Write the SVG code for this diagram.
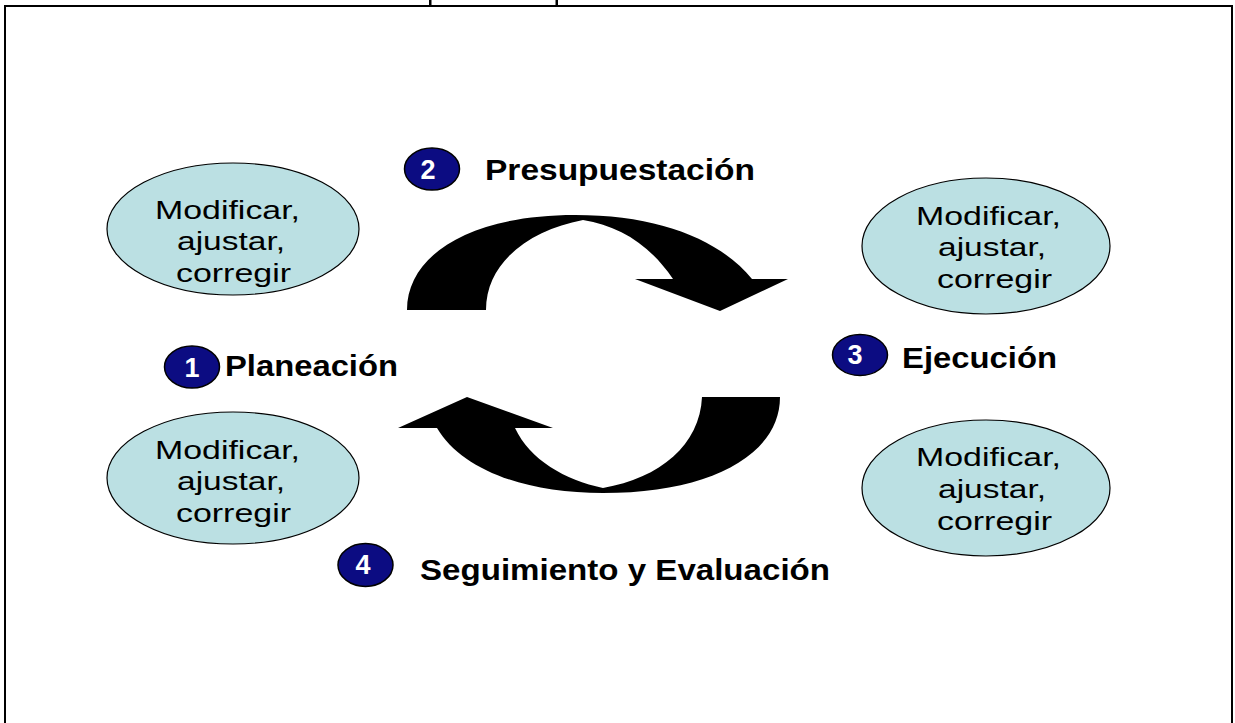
<svg xmlns="http://www.w3.org/2000/svg" width="1235" height="723" viewBox="0 0 1235 723">
  <style>
    .ell { fill: #bbe0e3; stroke: #000; stroke-width: 1.2; }
    .et { font-family: "Liberation Sans", Arial, sans-serif; font-size: 26px; fill: #000; }
    .badge { fill: #0c0c82; stroke: #000; stroke-width: 1.5; }
    .num { font-family: "Liberation Sans", Arial, sans-serif; font-size: 27px; font-weight: bold; fill: #fff; text-anchor: middle; }
    .lbl { font-family: "Liberation Sans", Arial, sans-serif; font-size: 30px; font-weight: bold; fill: #000; }
    .arrow { fill: #000; stroke: none; }
  </style>
  <rect x="0" y="0" width="1235" height="723" fill="#fff"/>
  <rect x="5" y="6" width="1227" height="740" fill="none" stroke="#000" stroke-width="2"/>
  <rect x="429" y="0" width="2.5" height="6" fill="#000"/>
  <rect x="555.5" y="0" width="2.5" height="6" fill="#000"/>

  <g id="connectors">
    <path class="arrow" d="M407,310 C407,255 470,215 575,215 C660,215 720,240 752,279 L788,279 L720,311 L635,279 L673,279 C650,245 620,226 583,220 C530,230 486,262 486,310 Z"/>
    <path class="arrow" d="M780,397 C780,455 710,493 603,493 C525,493 462,470 437,428 L398,428 L467,397 L553,428 L515,428 C530,460 565,480 603,488 C660,478 700,445 702,397 Z"/>
  </g>

  <g id="ellipse-top-left">
    <ellipse class="ell" cx="233" cy="229" rx="126" ry="66"/>
    <text class="et" x="155" y="219" textLength="145" lengthAdjust="spacingAndGlyphs">Modificar,</text>
    <text class="et" x="177" y="250" textLength="108" lengthAdjust="spacingAndGlyphs">ajustar,</text>
    <text class="et" x="176" y="282" textLength="115" lengthAdjust="spacingAndGlyphs">corregir</text>
  </g>
  <g id="ellipse-top-right">
    <ellipse class="ell" cx="986" cy="246" rx="124" ry="68"/>
    <text class="et" x="916" y="225" textLength="145" lengthAdjust="spacingAndGlyphs">Modificar,</text>
    <text class="et" x="938" y="256" textLength="108" lengthAdjust="spacingAndGlyphs">ajustar,</text>
    <text class="et" x="937" y="288" textLength="115" lengthAdjust="spacingAndGlyphs">corregir</text>
  </g>
  <g id="ellipse-bottom-left">
    <ellipse class="ell" cx="233" cy="478" rx="126" ry="66"/>
    <text class="et" x="155" y="459" textLength="145" lengthAdjust="spacingAndGlyphs">Modificar,</text>
    <text class="et" x="177" y="490" textLength="108" lengthAdjust="spacingAndGlyphs">ajustar,</text>
    <text class="et" x="176" y="522" textLength="115" lengthAdjust="spacingAndGlyphs">corregir</text>
  </g>
  <g id="ellipse-bottom-right">
    <ellipse class="ell" cx="986" cy="488" rx="124" ry="68"/>
    <text class="et" x="916" y="466" textLength="145" lengthAdjust="spacingAndGlyphs">Modificar,</text>
    <text class="et" x="938" y="498" textLength="108" lengthAdjust="spacingAndGlyphs">ajustar,</text>
    <text class="et" x="937" y="530" textLength="115" lengthAdjust="spacingAndGlyphs">corregir</text>
  </g>

  <g id="step-1">
    <ellipse class="badge" cx="192" cy="367" rx="27.5" ry="21"/>
    <text class="num" x="192" y="377">1</text>
    <text class="lbl" x="225" y="376" textLength="173" lengthAdjust="spacingAndGlyphs">Planeación</text>
  </g>
  <g id="step-2">
    <ellipse class="badge" cx="432" cy="169" rx="27.5" ry="21"/>
    <text class="num" x="428" y="179">2</text>
    <text class="lbl" x="485" y="180" textLength="270" lengthAdjust="spacingAndGlyphs">Presupuestación</text>
  </g>
  <g id="step-3">
    <ellipse class="badge" cx="860" cy="355" rx="27.5" ry="20.5"/>
    <text class="num" x="855" y="364">3</text>
    <text class="lbl" x="902" y="368" textLength="155" lengthAdjust="spacingAndGlyphs">Ejecución</text>
  </g>
  <g id="step-4">
    <ellipse class="badge" cx="365.5" cy="565" rx="27.5" ry="21.5"/>
    <text class="num" x="363" y="574">4</text>
    <text class="lbl" x="420" y="580" textLength="410" lengthAdjust="spacingAndGlyphs">Seguimiento y Evaluación</text>
  </g>
</svg>
